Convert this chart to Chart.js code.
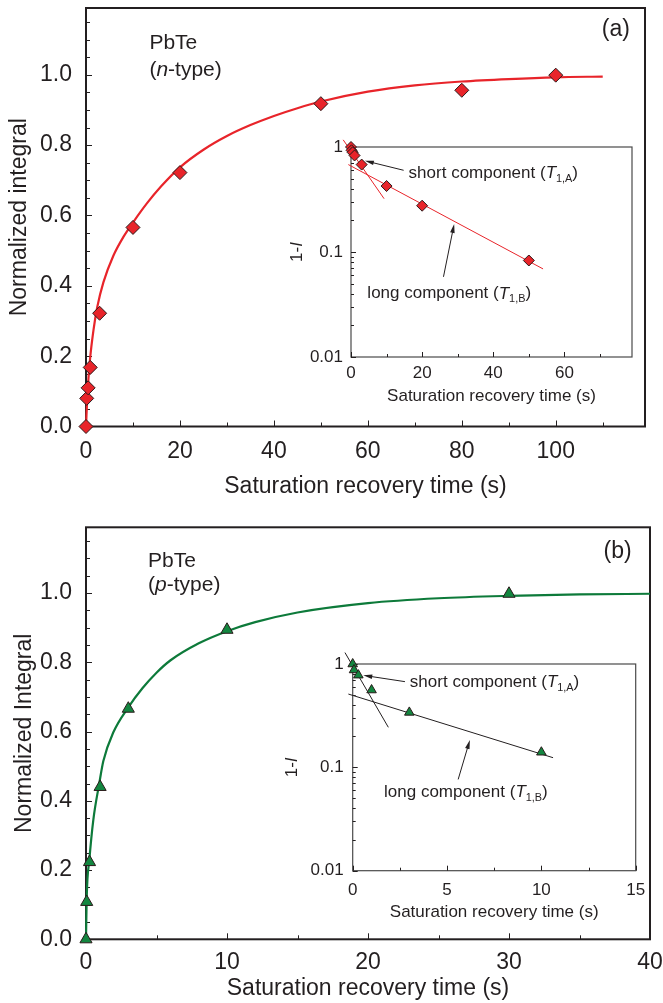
<!DOCTYPE html>
<html>
<head>
<meta charset="utf-8">
<script src="https://cdn.jsdelivr.net/npm/chart.js@4.4.0/dist/chart.umd.min.js"></script>
<style>
  html, body { margin: 0; padding: 0; background: #fff; }
  #page { position: relative; width: 663px; height: 1003px; overflow: hidden; background: #fff; }
  canvas { position: absolute; }
</style>
</head>
<body>
<div id="page">
  <canvas id="mainA" width="663" height="500" style="left:0;top:0"></canvas>
  <canvas id="insetA" width="380" height="300" style="left:280px;top:120px"></canvas>
  <canvas id="mainB" width="663" height="503" style="left:0;top:500px"></canvas>
  <canvas id="insetB" width="380" height="300" style="left:280px;top:640px"></canvas>
</div>
<script>
// ---- (a) n-type PbTe ----
const nTime = [0, 0.15, 0.45, 0.9, 2.9, 10, 20, 50, 80, 100];
const nIntegral = [0, 0.08, 0.11, 0.168, 0.322, 0.566, 0.722, 0.918, 0.956, 0.999];
const nFitTime = [0, 0.3, 0.85, 1.6, 2.4, 3.7, 5.8, 8, 10, 13, 16, 20, 25, 30, 35, 40, 45, 50, 60, 70, 80, 90, 100, 110];
const nFitValue = [0, 0.09, 0.19, 0.275, 0.34, 0.41, 0.485, 0.54, 0.58, 0.635, 0.683, 0.737, 0.787, 0.826, 0.857, 0.883, 0.905, 0.924, 0.952, 0.97, 0.981, 0.988, 0.993, 0.995];
// inset (a): 1-I on log scale
const nInsetTime = [0, 0.15, 0.45, 1, 3, 10, 20, 50];
const nInsetValue = [1, 0.93, 0.89, 0.83, 0.68, 0.425, 0.276, 0.083];
const nShortTime = [-2.2, 9.3];
const nShortValue = [1.17, 0.322];
const nLongTime = [-0.75, 54];
const nLongValue = [0.68, 0.069];

// ---- (b) p-type PbTe ----
const pTime = [0, 0.05, 0.25, 1, 3, 10, 30];
const pIntegral = [0, 0.108, 0.223, 0.44, 0.666, 0.894, 0.998];
const pFitTime = [0, 0.05, 0.24, 0.52, 0.94, 1.23, 1.94, 3, 4, 5, 6, 8, 10, 12, 15, 20, 25, 30, 35, 40];
const pFitValue = [0, 0.12, 0.23, 0.345, 0.45, 0.515, 0.598, 0.67, 0.725, 0.77, 0.806, 0.855, 0.89, 0.916, 0.944, 0.971, 0.985, 0.992, 0.996, 0.998];
const pInsetTime = [0, 0.07, 0.3, 1, 3, 10];
const pInsetValue = [1, 0.875, 0.78, 0.56, 0.34, 0.14];
const pShortTime = [-0.41, 1.89];
const pShortValue = [1.29, 0.244];
const pLongTime = [-0.23, 10.62];
const pLongValue = [0.512, 0.124];

// tick labels of the log insets
const logTicks = [0.01, 0.1, 1];
const logTickLabels = ['0.01', '0.1', '1'];

const INK = '#231f20';
const FONT = "'Liberation Sans', Arial, Helvetica, sans-serif";
const RED = '#e8242a';
const GREEN = '#138640';
const GREEN_LINE = '#0d7a3a';

const xy = (xs, ys) => xs.map((x, i) => ({ x, y: ys[i] }));
const range = (a, b, step) => {
  const out = [];
  for (let v = a; v <= b + 1e-9; v += step) out.push(+v.toFixed(6));
  return out;
};
const logMinor = [];
[0.01, 0.1].forEach(d => { for (let m = 2; m <= 9; m++) logMinor.push(m * d); });

// rich text: parts = [[text, style]] with style '', 'i' (italic) or 'sub'
function partFont(style, size) {
  const sub = style === 'sub';
  return {
    font: (style === 'i' ? 'italic ' : '') + (sub ? size * 0.64 : size) + 'px ' + FONT,
    dy: sub ? size * 0.3 : 0,
  };
}
function richWidth(ctx, parts, size) {
  let w = 0;
  for (const [text, style] of parts) {
    ctx.font = partFont(style, size).font;
    w += ctx.measureText(text).width;
  }
  return w;
}
function drawRich(ctx, x, y, parts, size, align) {
  let cx = align === 'center' ? x - richWidth(ctx, parts, size) / 2 : x;
  ctx.textBaseline = 'middle';
  ctx.textAlign = 'left';
  ctx.fillStyle = INK;
  for (const [text, style] of parts) {
    const f = partFont(style, size);
    ctx.font = f.font;
    ctx.fillText(text, cx, y + f.dy);
    cx += ctx.measureText(text).width;
  }
}
function drawArrow(ctx, x0, y0, x1, y1) {
  const a = Math.atan2(y1 - y0, x1 - x0);
  const c = Math.cos(a), s = Math.sin(a);
  const hl = 9, hw = 2.3;
  ctx.beginPath();
  ctx.moveTo(x0, y0);
  ctx.lineTo(x1 - c * hl * 0.6, y1 - s * hl * 0.6);
  ctx.stroke();
  ctx.beginPath();
  ctx.moveTo(x1, y1);
  ctx.lineTo(x1 - c * hl + s * hw, y1 - s * hl - c * hw);
  ctx.lineTo(x1 - c * hl - s * hw, y1 - s * hl + c * hw);
  ctx.closePath();
  ctx.fill();
}

// frame, inward ticks, labels and arrows for each canvas
const decor = {
  mainA: {
    frameWidth: 2, majorLen: 6, minorLen: 4,
    xMajor: range(0, 100, 20), xMinor: range(10, 110, 10),
    yMajor: range(0, 1, 0.2), yMinor: range(0.05, 1.15, 0.05),
    texts: [
      { x: 13.5, y: 1.09, size: 21, parts: [['PbTe', '']] },
      { x: 13.5, y: 1.013, size: 21, parts: [['(', ''], ['n', 'i'], ['-type)', '']] },
      { x: 109.8, y: 1.127, size: 23, parts: [['(a)', '']] },
    ],
  },
  mainB: {
    frameWidth: 2, majorLen: 6, minorLen: 4,
    xMajor: range(0, 40, 10), xMinor: range(5, 35, 10),
    yMajor: range(0, 1, 0.2), yMinor: range(0.05, 1.15, 0.05),
    texts: [
      { x: 4.4, y: 1.091, size: 21, parts: [['PbTe', '']] },
      { x: 4.4, y: 1.024, size: 21, parts: [['(', ''], ['p', 'i'], ['-type)', '']] },
      { x: 36.7, y: 1.119, size: 23, parts: [['(b)', '']] },
    ],
  },
  insetA: {
    frameWidth: 1.2, frameColor: '#4a4a4a', majorLen: 5, minorLen: 3,
    xMajor: range(0, 60, 20), xMinor: range(10, 70, 20),
    yMajor: logTicks, yMinor: logMinor,
    yTitle: { offset: 54, size: 17, parts: [['1-', ''], ['I', 'i']] },
    texts: [
      { x: 16.2, y: 0.557, size: 17, parts: [['short component (', ''], ['T', 'i'], ['1,A', 'sub'], [')', '']] },
      { x: 4.6, y: 0.040, size: 17, parts: [['long component (', ''], ['T', 'i'], ['1,B', 'sub'], [')', '']] },
    ],
    arrows: [
      { from: [14.8, 0.6], to: [3.9, 0.74] },
      { from: [26, 0.058], to: [29, 0.185] },
    ],
  },
  insetB: {
    frameWidth: 1.2, frameColor: '#4a4a4a', majorLen: 5, minorLen: 3,
    xMajor: range(0, 15, 5), xMinor: range(2.5, 12.5, 5),
    yMajor: logTicks, yMinor: logMinor,
    yTitle: { offset: 60, size: 17, parts: [['1-', ''], ['I', 'i']] },
    texts: [
      { x: 3.03, y: 0.66, size: 17, parts: [['short component (', ''], ['T', 'i'], ['1,A', 'sub'], [')', '']] },
      { x: 1.66, y: 0.057, size: 17, parts: [['long component (', ''], ['T', 'i'], ['1,B', 'sub'], [')', '']] },
    ],
    arrows: [
      { from: [2.77, 0.675], to: [0.56, 0.777] },
      { from: [5.59, 0.0764], to: [6.21, 0.184] },
    ],
  },
};

const decorPlugin = {
  id: 'decor',
  beforeDatasetsDraw(chart) {
    const d = decor[chart.canvas.id];
    const { ctx, chartArea: a, scales: { x, y } } = chart;
    ctx.save();
    ctx.strokeStyle = d.frameColor || INK;
    ctx.lineWidth = d.frameWidth;
    ctx.strokeRect(a.left, a.top, a.right - a.left, a.bottom - a.top);
    ctx.strokeStyle = INK;
    ctx.lineWidth = 1;
    ctx.beginPath();
    [[d.xMajor, d.majorLen], [d.xMinor, d.minorLen]].forEach(([vals, len]) => vals.forEach(v => {
      const px = Math.round(x.getPixelForValue(v)) + 0.5;
      ctx.moveTo(px, a.bottom);
      ctx.lineTo(px, a.bottom - len);
    }));
    [[d.yMajor, d.majorLen], [d.yMinor, d.minorLen]].forEach(([vals, len]) => vals.forEach(v => {
      const py = Math.round(y.getPixelForValue(v)) + 0.5;
      ctx.moveTo(a.left, py);
      ctx.lineTo(a.left + len, py);
    }));
    ctx.stroke();
    ctx.restore();
  },
  afterDatasetsDraw(chart) {
    const d = decor[chart.canvas.id];
    const { ctx, chartArea: a, scales: { x, y } } = chart;
    ctx.save();
    (d.texts || []).forEach(t => {
      drawRich(ctx, x.getPixelForValue(t.x), y.getPixelForValue(t.y), t.parts, t.size, 'left');
    });
    if (d.yTitle) {
      ctx.save();
      ctx.translate(a.left - d.yTitle.offset, (a.top + a.bottom) / 2);
      ctx.rotate(-Math.PI / 2);
      drawRich(ctx, 0, 0, d.yTitle.parts, d.yTitle.size, 'center');
      ctx.restore();
    }
    ctx.strokeStyle = INK;
    ctx.fillStyle = INK;
    ctx.lineWidth = 1;
    (d.arrows || []).forEach(ar => {
      drawArrow(ctx,
        x.getPixelForValue(ar.from[0]), y.getPixelForValue(ar.from[1]),
        x.getPixelForValue(ar.to[0]), y.getPixelForValue(ar.to[1]));
    });
    ctx.restore();
  },
};

const baseOptions = (padding) => ({
  responsive: false,
  animation: false,
  events: [],
  layout: { padding },
  plugins: { legend: { display: false }, tooltip: { enabled: false } },
});

const noGrid = { display: false, drawTicks: false };

// fixed axis sizes, and no extra room reserved for the end tick labels
const fixHeight = h => s => { s.height = h; s.paddingLeft = 0; s.paddingRight = 0; };
const fixWidth = w => s => { s.width = w; s.paddingTop = 0; s.paddingBottom = 0; };

function mainChart(id, cfg) {
  return new Chart(document.getElementById(id), {
    type: 'scatter',
    data: {
      datasets: [
        {
          data: xy(cfg.time, cfg.values),
          pointStyle: cfg.marker, pointRadius: 7,
          backgroundColor: cfg.fill, borderColor: '#2a1a1a', borderWidth: 1,
          clip: false, order: 0,
        },
        {
          data: xy(cfg.fitTime, cfg.fitValues),
          showLine: true, pointRadius: 0,
          borderColor: cfg.line, borderWidth: 2.2,
          cubicInterpolationMode: 'monotone',
          clip: false, order: 1,
        },
      ],
    },
    options: Object.assign(baseOptions({ left: 0, top: cfg.top, right: cfg.right, bottom: 0 }), {
      scales: {
        x: {
          type: 'linear', min: 0, max: cfg.xMax,
          grid: noGrid, border: { display: false },
          ticks: { stepSize: cfg.xStep, includeBounds: false, autoSkip: false, maxRotation: 0,
            padding: cfg.xPad, color: INK, font: { family: FONT, size: 23 } },
          title: { display: true, text: 'Saturation recovery time (s)', color: INK,
            font: { family: FONT, size: 23 }, padding: { top: 0, bottom: cfg.xTitlePad } },
          afterFit: fixHeight(cfg.xHeight),
        },
        y: {
          type: 'linear', min: 0, max: 1.19,
          grid: noGrid, border: { display: false },
          ticks: { stepSize: 0.2, includeBounds: false, autoSkip: false, padding: 14,
            color: INK, font: { family: FONT, size: 23 }, callback: v => v.toFixed(1) },
          title: { display: true, text: cfg.yTitle, color: INK,
            font: { family: FONT, size: 23 }, padding: { top: cfg.yTitlePad, bottom: 0 } },
          afterFit: fixWidth(86),
        },
      },
    }),
    plugins: [decorPlugin],
  });
}

function insetChart(id, cfg) {
  return new Chart(document.getElementById(id), {
    type: 'scatter',
    data: {
      datasets: [
        {
          data: xy(cfg.time, cfg.values),
          pointStyle: cfg.marker, pointRadius: 5.5,
          backgroundColor: cfg.fill, borderColor: '#2a1a1a', borderWidth: 1,
          clip: false, order: 0,
        },
        {
          data: xy(cfg.shortTime, cfg.shortValues),
          showLine: true, pointRadius: 0, borderColor: cfg.line, borderWidth: 1,
          clip: false, order: 1,
        },
        {
          data: xy(cfg.longTime, cfg.longValues),
          showLine: true, pointRadius: 0, borderColor: cfg.line, borderWidth: 1,
          clip: false, order: 2,
        },
      ],
    },
    options: Object.assign(baseOptions({ left: 0, top: cfg.top, right: cfg.right, bottom: 0 }), {
      scales: {
        x: {
          type: 'linear', min: 0, max: cfg.xMax,
          grid: noGrid, border: { display: false },
          ticks: { stepSize: cfg.xStep, includeBounds: false, autoSkip: false, maxRotation: 0,
            padding: cfg.xPad, color: INK, font: { family: FONT, size: 17 } },
          title: { display: true, text: 'Saturation recovery time (s)', color: INK,
            font: { family: FONT, size: 17 }, padding: { top: 0, bottom: cfg.xTitlePad } },
          afterFit: fixHeight(cfg.xHeight),
        },
        y: {
          type: 'logarithmic', min: 0.01, max: 1,
          grid: noGrid, border: { display: false },
          afterBuildTicks: s => { s.ticks = logTicks.map(v => ({ value: v })); },
          ticks: { autoSkip: false, padding: cfg.yPad, color: INK, font: { family: FONT, size: 17 },
            callback: (v, i) => logTickLabels[i] },
          afterFit: fixWidth(cfg.yWidth),
        },
      },
    }),
    plugins: [decorPlugin],
  });
}

mainChart('mainA', {
  time: nTime, values: nIntegral, fitTime: nFitTime, fitValues: nFitValue,
  marker: 'rectRot', fill: RED, line: RED,
  top: 7, right: 18, xMax: 119, xStep: 20, xPad: 11, xTitlePad: 0, xHeight: 73.5,
  yTitle: 'Normalized integral', yTitlePad: 6,
});
insetChart('insetA', {
  time: nInsetTime, values: nInsetValue,
  shortTime: nShortTime, shortValues: nShortValue, longTime: nLongTime, longValues: nLongValue,
  marker: 'rectRot', fill: RED, line: RED,
  top: 27, right: 28, xMax: 79, xStep: 20, xPad: 6, xTitlePad: 13, xHeight: 63, yWidth: 71, yPad: 8,
});
mainChart('mainB', {
  time: pTime, values: pIntegral, fitTime: pFitTime, fitValues: pFitValue,
  marker: 'triangle', fill: GREEN, line: GREEN_LINE,
  top: 27.3, right: 13, xMax: 40, xStep: 10, xPad: 10, xTitlePad: 1, xHeight: 63.7,
  yTitle: 'Normalized Integral', yTitlePad: 11,
});
insetChart('insetB', {
  time: pInsetTime, values: pInsetValue,
  shortTime: pShortTime, shortValues: pShortValue, longTime: pLongTime, longValues: pLongValue,
  marker: 'triangle', fill: GREEN, line: INK,
  top: 24, right: 24.3, xMax: 15, xStep: 5, xPad: 9, xTitlePad: 17, xHeight: 69.3, yWidth: 72.7, yPad: 9,
});
</script>
</body>
</html>
